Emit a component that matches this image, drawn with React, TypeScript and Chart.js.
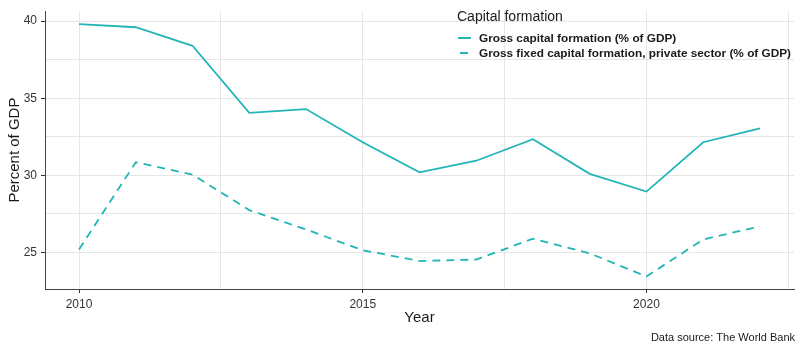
import React, { useEffect, useRef } from "react";
import { Chart, registerables } from "chart.js";
Chart.register(...registerables);

const years = [2010, 2011, 2012, 2013, 2014, 2015, 2016, 2017, 2018, 2019, 2020, 2021, 2022];
const grossCapital = [39.8, 39.6, 38.4, 34.05, 34.3, 32.15, 30.2, 30.95, 32.35, 30.1, 28.95, 32.15, 33.05];
const privateFixed = [25.2, 30.85, 30.05, 27.75, 26.5, 25.15, 24.45, 24.55, 25.9, 24.95, 23.45, 25.85, 26.7];
const yMajorTicks = [25, 30, 35, 40];
const yMinorTicks = [27.5, 32.5, 37.5];
const xMajorTicks = [2010, 2015, 2020];
const xMinorTicks = [2012.5, 2017.5, 2022.5];
const legendTitle = "Capital formation";
const seriesNames = [
  "Gross capital formation (% of GDP)",
  "Gross fixed capital formation, private sector (% of GDP)",
];
const xTitle = "Year";
const yTitle = "Percent of GDP";
const caption = "Data source: The World Bank";

const COLOR = "#22B5B7";
const FONT = "'Liberation Sans', Arial, sans-serif";

export default function App() {
  const ref = useRef<HTMLCanvasElement>(null);
  useEffect(() => {
    document.body.style.margin = "0";
    const ctx = ref.current!;
    const textPlugin = {
      id: "texts",
      afterDraw(chart: any) {
        const c = chart.ctx;
        const a = chart.chartArea;
        c.save();
        c.fillStyle = "#1a1a1a";
        c.font = `15px ${FONT}`;
        c.textAlign = "center";
        c.textBaseline = "middle";
        c.fillText(xTitle, (a.left + a.right) / 2, 318);
        c.save();
        c.translate(15, (a.top + a.bottom) / 2);
        c.rotate(-Math.PI / 2);
        c.fillText(yTitle, 0, 0);
        c.restore();
        c.font = `11px ${FONT}`;
        c.textAlign = "right";
        c.fillText(caption, 795, 338);
        // legend
        c.textAlign = "left";
        c.font = `14px ${FONT}`;
        c.fillText(legendTitle, 457, 17);
        c.font = `bold 11.8px ${FONT}`;
        c.fillText(seriesNames[0], 479, 39);
        c.fillText(seriesNames[1], 479, 54);
        c.strokeStyle = COLOR;
        c.lineWidth = 2;
        c.beginPath();
        c.moveTo(458, 38);
        c.lineTo(471, 38);
        c.stroke();
        c.beginPath();
        c.moveTo(460, 53);
        c.lineTo(468, 53);
        c.stroke();
        c.restore();
      },
    };
    const chart = new Chart(ctx, {
      type: "line",
      data: {
        datasets: [
          {
            label: seriesNames[0],
            data: years.map((x, i) => ({ x, y: grossCapital[i] })),
            borderColor: COLOR,
            borderWidth: 1.8,
            pointRadius: 0,
            tension: 0,
          },
          {
            label: seriesNames[1],
            data: years.map((x, i) => ({ x, y: privateFixed[i] })),
            borderColor: COLOR,
            borderWidth: 1.8,
            borderDash: [8, 6],
            pointRadius: 0,
            tension: 0,
          },
        ],
      },
      options: {
        animation: false,
        responsive: false,
        layout: { padding: { top: 6, right: 6, left: 0, bottom: 0 } },
        plugins: { legend: { display: false }, tooltip: { enabled: false } },
        scales: {
          x: {
            type: "linear",
            min: 2009.4,
            max: 2022.6,
            afterBuildTicks: (s: any) => {
              s.ticks = [...xMajorTicks, ...xMinorTicks]
                .sort((a, b) => a - b)
                .map((v) => ({ value: v }));
            },
            afterFit: (s: any) => {
              s.height = 62;
            },
            ticks: {
              autoSkip: false,
              maxRotation: 0,
              padding: 4,
              color: "#333",
              font: { family: FONT, size: 12 },
              callback: (v: any) => (xMajorTicks.includes(v) ? String(v) : ""),
            },
            grid: {
              color: "#E6E6E6",
              lineWidth: 1,
              tickLength: 4,
              tickColor: (c: any) =>
                xMajorTicks.includes(c.tick?.value) ? "#333" : "rgba(0,0,0,0)",
            },
            border: { display: true, color: "#444", width: 1 },
          },
          y: {
            type: "linear",
            min: 22.64,
            max: 40.64,
            afterBuildTicks: (s: any) => {
              s.ticks = [...yMajorTicks, ...yMinorTicks]
                .sort((a, b) => a - b)
                .map((v) => ({ value: v }));
            },
            afterFit: (s: any) => {
              s.width = 45;
            },
            ticks: {
              autoSkip: false,
              padding: 4,
              color: "#333",
              font: { family: FONT, size: 12 },
              callback: (v: any) => (yMajorTicks.includes(v) ? String(v) : ""),
            },
            grid: {
              color: "#E6E6E6",
              lineWidth: 1,
              tickLength: 4,
              tickColor: (c: any) =>
                yMajorTicks.includes(c.tick?.value) ? "#333" : "rgba(0,0,0,0)",
            },
            border: { display: true, color: "#444", width: 1 },
          },
        },
      },
      plugins: [textPlugin],
    });
    return () => chart.destroy();
  }, []);
  return (
    <div style={{ width: 800, height: 351 }}>
      <canvas ref={ref} width={800} height={351} style={{ display: "block" }} />
    </div>
  );
}
